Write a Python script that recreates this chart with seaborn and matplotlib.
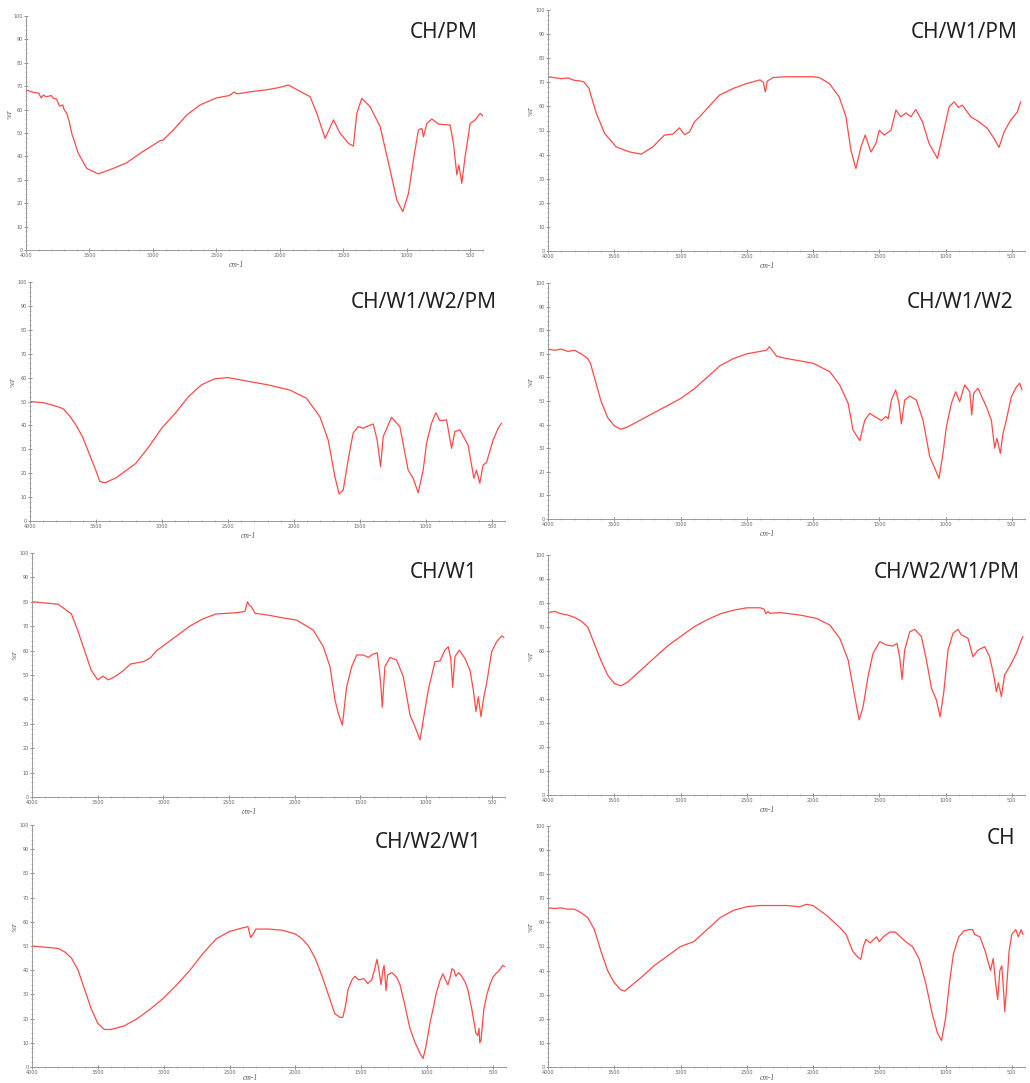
import numpy as np
import pandas as pd
import matplotlib
matplotlib.use('Agg')
import matplotlib.pyplot as plt
import seaborn as sns
from matplotlib.ticker import MultipleLocator

# FTIR spectra (wavenumber cm-1, %T)
wn_ch_pm = [4000, 3950, 3900, 3880, 3864, 3840, 3800, 3785, 3760, 3740, 3732, 3710, 3700, 3679, 3660, 3640,
            3588, 3522, 3430, 3312, 3206, 3102, 2944, 2920, 2839, 2734, 2629, 2500, 2400, 2360, 2340, 2300,
            2235, 2100, 2000, 1933, 1762, 1709, 1644, 1578, 1526, 1460, 1421, 1394, 1355, 1289, 1210, 1132,
            1079, 1032, 987, 948, 909, 882, 869, 842, 803, 751, 659, 633, 606, 590, 567, 541, 501, 462, 422, 396]
t_ch_pm = [68.4, 67.5, 67, 65, 66.2, 65.5, 66, 64.8, 64.5, 62, 61.5, 62, 60, 58.4, 55, 49.9,
           41.3, 34.9, 32.5, 34.9, 37.3, 41.3, 46.7, 47, 51.3, 57.7, 62, 65, 66, 67.5, 66.8, 67,
           67.6, 68.5, 69.5, 70.5, 65.5, 58.4, 47.7, 55.6, 49.9, 45.6, 44.4, 58.4, 64.8, 61.2, 52.7, 34.2,
           21.4, 16.4, 24.2, 38.5, 51.3, 52, 48.4, 54.1, 56, 53.8, 53.4, 45.6, 32.1, 36.3, 28.5, 39.9, 54.1, 55.6, 58.4, 57]

wn_ch_w1_pm = [4000, 3900, 3850, 3800, 3761, 3730, 3711, 3690, 3673, 3635, 3573, 3485, 3384, 3296, 3209, 3121,
               3058, 3008, 2970, 2932, 2895, 2844, 2706, 2600, 2500, 2400, 2375, 2360, 2345, 2300, 2200, 2000,
               1954, 1877, 1803, 1751, 1714, 1676, 1638, 1606, 1563, 1525, 1500, 1463, 1412, 1374, 1337, 1299,
               1261, 1224, 1174, 1124, 1061, 1023, 973, 935, 903, 873, 809, 747, 684, 634, 596, 558, 508, 458, 433]
t_ch_w1_pm = [72.3, 71.5, 71.8, 70.8, 70.6, 70.2, 68.8, 67.5, 64, 57.1, 48.8, 43.2, 41.1, 40.2, 43.2, 48.1,
              48.5, 51.1, 48.3, 49.4, 53.6, 56.4, 64.7, 67.5, 69.5, 71, 70, 66, 70.5, 72, 72.3, 72.3,
              72, 69.5, 64, 55.7, 41.8, 34.2, 43.2, 48.1, 41.1, 44.6, 50.1, 48.1, 50.1, 58.5, 55.7, 57.3,
              55.7, 58.7, 53.6, 44.6, 38.4, 47.4, 59.8, 61.9, 59.6, 60.5, 55.7, 53.6, 50.9, 46.7, 43, 49.4, 54.3, 57.7, 61.9]

wn_ch_w1_w2_pm = [4000, 3900, 3800, 3750, 3700, 3650, 3600, 3550, 3500, 3470, 3430, 3350, 3200, 3100, 3000, 2900,
                  2800, 2700, 2600, 2500, 2400, 2333, 2200, 2030, 1904, 1803, 1740, 1689, 1657, 1626, 1589, 1551,
                  1513, 1475, 1450, 1399, 1369, 1343, 1323, 1260, 1197, 1134, 1096, 1058, 1020, 995, 957, 924,
                  894, 843, 805, 780, 742, 680, 636, 616, 591, 566, 540, 490, 452, 427]
t_ch_w1_w2_pm = [50, 49.5, 48, 47, 44, 40, 35, 28, 21, 16.5, 16, 18, 24, 31, 39, 45,
                 52, 57, 59.5, 60, 59, 58.3, 57, 54.8, 51.3, 43.6, 33.9, 18.5, 11.3, 13, 25.5, 36.7,
                 39.5, 38.8, 39.5, 40.6, 33.9, 22.7, 35.3, 43.4, 39.5, 21.3, 17.9, 11.8, 21.3, 32.5, 40.9, 45.3,
                 42, 42.3, 30.4, 37.4, 38.1, 31.8, 17.9, 21.3, 15.8, 23.4, 24.5, 33.9, 38.8, 40.9]

wn_ch_w1_w2 = [4000, 3950, 3900, 3850, 3800, 3750, 3700, 3680, 3650, 3600, 3550, 3500, 3450, 3400, 3300, 3200,
               3100, 3000, 2900, 2800, 2700, 2600, 2500, 2400, 2350, 2330, 2310, 2275, 2200, 1999, 1873, 1798,
               1735, 1698, 1647, 1609, 1572, 1534, 1484, 1451, 1432, 1408, 1376, 1351, 1333, 1308, 1270, 1220,
               1170, 1119, 1081, 1049, 1019, 993, 956, 923, 893, 855, 817, 802, 787, 755, 692, 654,
               629, 612, 586, 566, 541, 503, 465, 440, 423]
t_ch_w1_w2 = [72, 71.5, 72, 71, 71.5, 70, 68, 66, 60, 50, 43, 39.5, 38, 39, 42, 45,
              48, 51, 55, 60, 65, 68, 70, 71, 71.5, 73, 71.6, 69, 68, 66, 62.4, 56.8,
              49, 37.7, 33.2, 41.9, 44.8, 43.4, 41.7, 43.4, 42.5, 50.4, 54.7, 49, 40.3, 50.4, 52.1, 50.4,
              41.9, 26.4, 21.5, 17.2, 27.8, 39.1, 49, 53.9, 49.7, 56.8, 53.9, 44.1, 53.3, 55.4, 47.6, 41.9,
              30, 34.2, 27.8, 36.3, 41.9, 51.8, 56, 57.5, 54.7]

wn_ch_w1 = [4000, 3900, 3800, 3750, 3700, 3650, 3600, 3550, 3500, 3460, 3420, 3380, 3350, 3300, 3250, 3200,
            3150, 3100, 3050, 3000, 2900, 2800, 2700, 2600, 2450, 2380, 2360, 2345, 2330, 2303, 2200, 2100,
            1986, 1859, 1783, 1732, 1694, 1669, 1638, 1605, 1567, 1529, 1478, 1441, 1403, 1372, 1346, 1334,
            1314, 1276, 1225, 1174, 1123, 1085, 1047, 1022, 984, 933, 895, 857, 832, 813, 798, 781,
            748, 705, 667, 641, 621, 603, 583, 565, 540, 501, 463, 425, 408]
t_ch_w1 = [80, 79.5, 79, 77, 75, 68, 60, 52, 48, 49.5, 48, 49, 50, 52, 54.5, 55,
           55.5, 57, 60, 62, 66, 70, 73, 75, 75.5, 76, 80, 78.5, 78, 75.3, 74.5, 73.5,
           72.5, 68.4, 61.6, 53.4, 39.8, 34.3, 29.5, 45.2, 53.4, 58.2, 58.2, 57.2, 58.6, 59.1, 46.6, 36.8,
           53.4, 57.2, 56.1, 49.3, 33.6, 28.8, 23.4, 31.6, 43.9, 55.5, 55.7, 60.2, 61.6, 56.8, 45, 57.5,
           60.2, 56.8, 52, 43.9, 35, 41.1, 32.9, 39.8, 46.6, 59.6, 63.7, 66, 65.4]

wn_ch_w2_w1_pm = [4000, 3950, 3900, 3850, 3800, 3750, 3700, 3650, 3600, 3550, 3500, 3450, 3400, 3300, 3200, 3100,
                  3000, 2900, 2800, 2700, 2600, 2500, 2400, 2370, 2355, 2340, 2326, 2250, 2100, 1974, 1873, 1798,
                  1735, 1685, 1652, 1622, 1585, 1547, 1496, 1446, 1396, 1366, 1345, 1328, 1308, 1270, 1232, 1182,
                  1144, 1106, 1069, 1041, 1014, 981, 943, 906, 880, 830, 793, 755, 704, 667,
                  634, 616, 601, 578, 554, 516, 465, 428, 415]
t_ch_w2_w1_pm = [76, 76.5, 75.5, 75, 74, 72.5, 70, 63, 56, 50, 46.5, 45.5, 47, 52, 57, 62,
                 66, 70, 73, 75.5, 77, 78, 78, 77.5, 75.5, 76.5, 75.7, 76, 75, 73.6, 70.8, 65.3,
                 56.3, 41, 31.3, 36.8, 49.3, 59, 63.9, 62.5, 62.1, 63.2, 57, 48.2, 60.4, 68, 69, 66,
                 56.3, 44.5, 39.6, 32.6, 42.4, 60.4, 67.4, 69, 66.7, 65.3, 57.6, 60.4, 61.8, 57.6,
                 49.3, 43, 46.8, 41, 50, 53.5, 59, 64.6, 66]

wn_ch_w2_w1 = [4000, 3900, 3800, 3750, 3700, 3650, 3600, 3550, 3500, 3450, 3400, 3300, 3200, 3100, 3000, 2900,
               2800, 2700, 2600, 2500, 2400, 2360, 2340, 2320, 2300, 2200, 2100, 2000, 1950, 1900, 1850, 1800,
               1750, 1700, 1660, 1640, 1620, 1600, 1570, 1547, 1520, 1480, 1450, 1420, 1395, 1380, 1365, 1349,
               1335, 1326, 1311, 1300, 1266, 1230, 1205, 1170, 1130, 1090, 1054, 1030, 1010, 990, 978, 950,
               932, 900, 879, 860, 841, 820, 811, 795, 781, 760, 736, 710, 690, 660, 629, 615,
               605, 599, 590, 575, 568, 545, 523, 500, 478, 450, 425, 410]
t_ch_w2_w1 = [50, 49.5, 49, 47.5, 45, 40, 32, 24, 18, 15.5, 15.5, 17, 20, 24, 28.5, 34,
              40, 47, 53, 56, 57.5, 58, 53.5, 55, 57, 57, 56.5, 55, 53, 50, 45, 38,
              30, 22, 20.5, 20.5, 25, 32, 36, 37.5, 36, 36.5, 34.5, 36, 41, 44.5, 40, 34,
              40, 42, 31.5, 38, 39, 37, 34, 26, 16, 10, 5.7, 3.5, 8, 14, 18, 25,
              30, 36, 38.5, 36, 34, 38, 40.6, 40, 37.5, 39, 37.5, 35, 32, 24, 14, 13,
              16, 10, 11, 20, 24, 30, 34, 37, 38.5, 40, 42, 41.5]

wn_ch = [4000, 3950, 3900, 3850, 3800, 3750, 3700, 3650, 3600, 3550, 3500, 3450, 3420, 3400, 3300, 3200,
         3100, 3000, 2950, 2900, 2800, 2700, 2600, 2500, 2400, 2200, 2100, 2050, 2000, 1950, 1900, 1800,
         1750, 1700, 1660, 1640, 1620, 1600, 1570, 1550, 1520, 1500, 1470, 1420, 1380, 1340, 1300, 1250,
         1200, 1150, 1100, 1060, 1030, 1000, 970, 940, 900, 860, 820, 795, 780, 740, 700, 660,
         640, 620, 606, 590, 575, 560, 553, 540, 520, 500, 470, 450, 430, 415]
t_ch = [66, 65.8, 66, 65.5, 65.5, 64, 62, 57, 48, 40, 35, 32, 31.5, 32.5, 37, 42,
        46, 50, 51, 52, 57, 62, 65, 66.5, 67, 67, 66.5, 67.5, 67, 65, 63, 58,
        55, 48, 45.5, 44.7, 50, 53, 51.5, 52.5, 54, 52, 54, 56, 56, 54, 52, 50,
        45, 35, 22, 14, 11, 20, 35, 47, 54, 56.5, 57, 57, 55, 54, 48, 40,
        45, 34, 28, 40, 42, 30, 23, 32, 48, 55, 57, 54, 57, 55]

names = ['CH/PM', 'CH/W1/PM', 'CH/W1/W2/PM', 'CH/W1/W2', 'CH/W1', 'CH/W2/W1/PM', 'CH/W2/W1', 'CH']
spectra = [(wn_ch_pm, t_ch_pm), (wn_ch_w1_pm, t_ch_w1_pm), (wn_ch_w1_w2_pm, t_ch_w1_w2_pm),
           (wn_ch_w1_w2, t_ch_w1_w2), (wn_ch_w1, t_ch_w1), (wn_ch_w2_w1_pm, t_ch_w2_w1_pm),
           (wn_ch_w2_w1, t_ch_w2_w1), (wn_ch, t_ch)]

W, H = 1030, 1083
# axes boxes in pixels: x at 4000, x at 400, y at 100, y at 0
boxes = [(26, 483, 16, 250), (548, 1025, 10, 251),
         (30, 505, 282, 521), (548, 1025, 283, 519),
         (32, 505, 553, 797), (548, 1025, 555, 795),
         (32, 506, 825, 1067), (548, 1025, 826, 1067)]
# title anchor (right edge x, centre y) in pixels
title_pos = [(478, 33), (1018, 32), (497, 303), (1013, 303),
             (477, 573), (1020, 573), (482, 843), (1015, 838)]

sns.set_style('ticks')
fig = plt.figure(figsize=(W / 100, H / 100), dpi=100)

for i, name in enumerate(names):
    x0, x1, yt, yb = boxes[i]
    ax = fig.add_axes([x0 / W, 1 - yb / H, (x1 - x0) / W, (yb - yt) / H])
    df = pd.DataFrame({'wn': spectra[i][0], 'T': spectra[i][1]})
    sns.lineplot(data=df, x='wn', y='T', ax=ax, color='#ff2a2a', lw=0.9, alpha=0.85,
                 estimator=None, sort=False)
    ax.set_xlim(4000, 400)
    ax.set_ylim(0, 100)
    ax.set_xticks(range(4000, 499, -500))
    ax.set_yticks(range(0, 101, 10))
    ax.xaxis.set_minor_locator(MultipleLocator(100))
    ax.yaxis.set_minor_locator(MultipleLocator(2))
    ax.tick_params(which='major', direction='inout', length=3, width=0.5,
                   labelsize=3.5, colors='#666666', pad=1)
    ax.tick_params(which='minor', direction='inout', length=2, width=0.4, colors='#888888')
    for s in ['top', 'right']:
        ax.spines[s].set_visible(False)
    for s in ['left', 'bottom']:
        ax.spines[s].set_color('#999999')
        ax.spines[s].set_linewidth(0.7)
    ax.set_xlabel('cm-1', fontsize=5.5, style='italic', family='Liberation Serif', color='#555555')
    ax.xaxis.set_label_coords(0.46, -0.03 if i >= 6 else -0.045)
    ax.set_ylabel('%T', fontsize=5, style='italic', family='Liberation Serif', color='#555555')
    ax.yaxis.set_label_coords(-0.03, 0.58)
    tx, ty = title_pos[i]
    fig.text(tx / W, 1 - ty / H, name, ha='right', va='center', fontsize=15,
             family='Noto Sans', color='#222222')

fig.savefig('out.png', dpi=100, facecolor='white')
